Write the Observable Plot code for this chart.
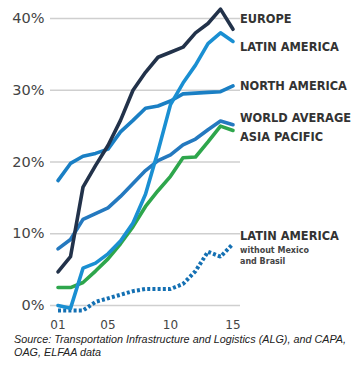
<!DOCTYPE html>
<html>
<head>
<meta charset="utf-8">
<script src="https://cdn.jsdelivr.net/npm/d3@7"></script>
<script src="https://cdn.jsdelivr.net/npm/@observablehq/plot@0.6"></script>
<style>
  html, body { margin: 0; padding: 0; background: #fff; }
  #chart { width: 355px; }
  .caption { font-family: "Liberation Sans", Arial, sans-serif; font-style: italic; font-size: 10.8px; line-height: 13px; color: #222; margin: 0 0 0 14px; white-space: nowrap; }
</style>
</head>
<body>
<div id="chart"></div>
<script>
const years = [2001, 2002, 2003, 2004, 2005, 2006, 2007, 2008, 2009, 2010, 2011, 2012, 2013, 2014, 2015];
const europe        = [4.7, 6.8, 16.5, 19.5, 22.3, 25.8, 30.0, 32.5, 34.6, 35.3, 36.0, 38.0, 39.3, 41.3, 38.5];
const latinAmerica  = [0.0, -0.4, 5.2, 5.9, 7.2, 9.0, 11.5, 15.5, 21.5, 28.0, 31.0, 33.5, 36.5, 38.0, 36.8];
const northAmerica  = [17.4, 19.8, 20.8, 21.2, 21.8, 24.2, 25.8, 27.5, 27.8, 28.5, 29.5, 29.6, 29.7, 29.8, 30.6];
const worldAverage  = [7.9, 9.2, 12.0, 12.8, 13.6, 15.2, 17.0, 18.8, 20.2, 21.0, 22.4, 23.2, 24.5, 25.7, 25.2];
const asiaPacific   = [2.5, 2.5, 3.2, 4.8, 6.5, 8.6, 11.0, 13.8, 16.0, 18.0, 20.6, 20.7, 22.8, 25.0, 24.4];
const latamExMxBr   = [-0.7, -0.7, -0.7, 0.5, 1.0, 1.5, 2.0, 2.3, 2.3, 2.3, 3.0, 4.8, 7.5, 6.8, 8.6];

const yTicks = [0, 10, 20, 30, 40];
const xTicks = [2001, 2005, 2010, 2015];
const xTickLabels = ["01", "05", "10", "15"];

const seriesNames = ["EUROPE", "LATIN AMERICA", "NORTH AMERICA", "WORLD AVERAGE", "ASIA PACIFIC", "LATIN AMERICA*"];
const seriesValues = [europe, latinAmerica, northAmerica, worldAverage, asiaPacific, latamExMxBr];
const seriesColors = ["#22324a", "#1a8fd2", "#1a7fc4", "#2479bf", "#2ea64c", "#1470b3"];

const table = (vals) => years.map((y, i) => ({year: y, value: vals[i]}));

const lineFor = (i, opts = {}) => Plot.line(table(seriesValues[i]), {
  x: "year", y: "value", stroke: seriesColors[i], strokeWidth: 3.6,
  strokeLinejoin: "round", strokeLinecap: "round", ...opts
});

const labelFor = (i, text, dy, opts = {}) => {
  const vals = seriesValues[i];
  return Plot.text([{year: years[years.length - 1], value: vals[vals.length - 1]}], {
    x: "year", y: "value", text: () => text, dx: 7, dy, textAnchor: "start",
    fill: "#333", fontWeight: "bold", fontSize: 11.4,
    fontFamily: "DejaVu Sans, sans-serif", ...opts
  });
};

const chart = Plot.plot({
  width: 355,
  height: 333,
  marginLeft: 50,
  marginRight: 115,
  marginTop: 18,
  marginBottom: 28,
  style: {fontFamily: "DejaVu Sans, sans-serif", background: "#fff", overflow: "visible"},
  x: {domain: [2000.4, 2015.6]},
  y: {domain: [0, 40]},
  marks: [
    Plot.gridY(yTicks, {stroke: "#cfcfcf", strokeOpacity: 1, strokeWidth: 1.5}),
    Plot.axisY(yTicks, {tickSize: 0, tickPadding: 6, tickFormat: d => d + "%", fontSize: 14.5, fill: "#444", label: null}),
    Plot.axisX(xTicks, {tickSize: 0, tickPadding: 15, tickFormat: (d) => xTickLabels[xTicks.indexOf(d)], fontSize: 12, fill: "#444", label: null}),
    lineFor(5, {strokeWidth: 4, strokeDasharray: "3,2.2", strokeLinecap: "butt", strokeLinejoin: "miter"}),
    lineFor(4),
    lineFor(3),
    lineFor(2),
    lineFor(1),
    lineFor(0),
    labelFor(0, "EUROPE", -10),
    labelFor(1, "LATIN AMERICA", 6),
    labelFor(2, "NORTH AMERICA", 0),
    labelFor(3, "WORLD AVERAGE", -6),
    labelFor(4, "ASIA PACIFIC", 7),
    labelFor(5, "LATIN AMERICA", -7),
    labelFor(5, "without Mexico", 7, {fontSize: 8, fontWeight: "bold", fill: "#444"}),
    labelFor(5, "and Brasil", 18, {fontSize: 8, fontWeight: "bold", fill: "#444"})
  ]
});
document.getElementById("chart").appendChild(chart);
const cap = document.createElement("p");
cap.className = "caption";
cap.innerHTML = "Source: Transportation Infrastructure and Logistics (ALG), and CAPA,<br>OAG, ELFAA data";
document.getElementById("chart").appendChild(cap);
</script>
</body>
</html>
